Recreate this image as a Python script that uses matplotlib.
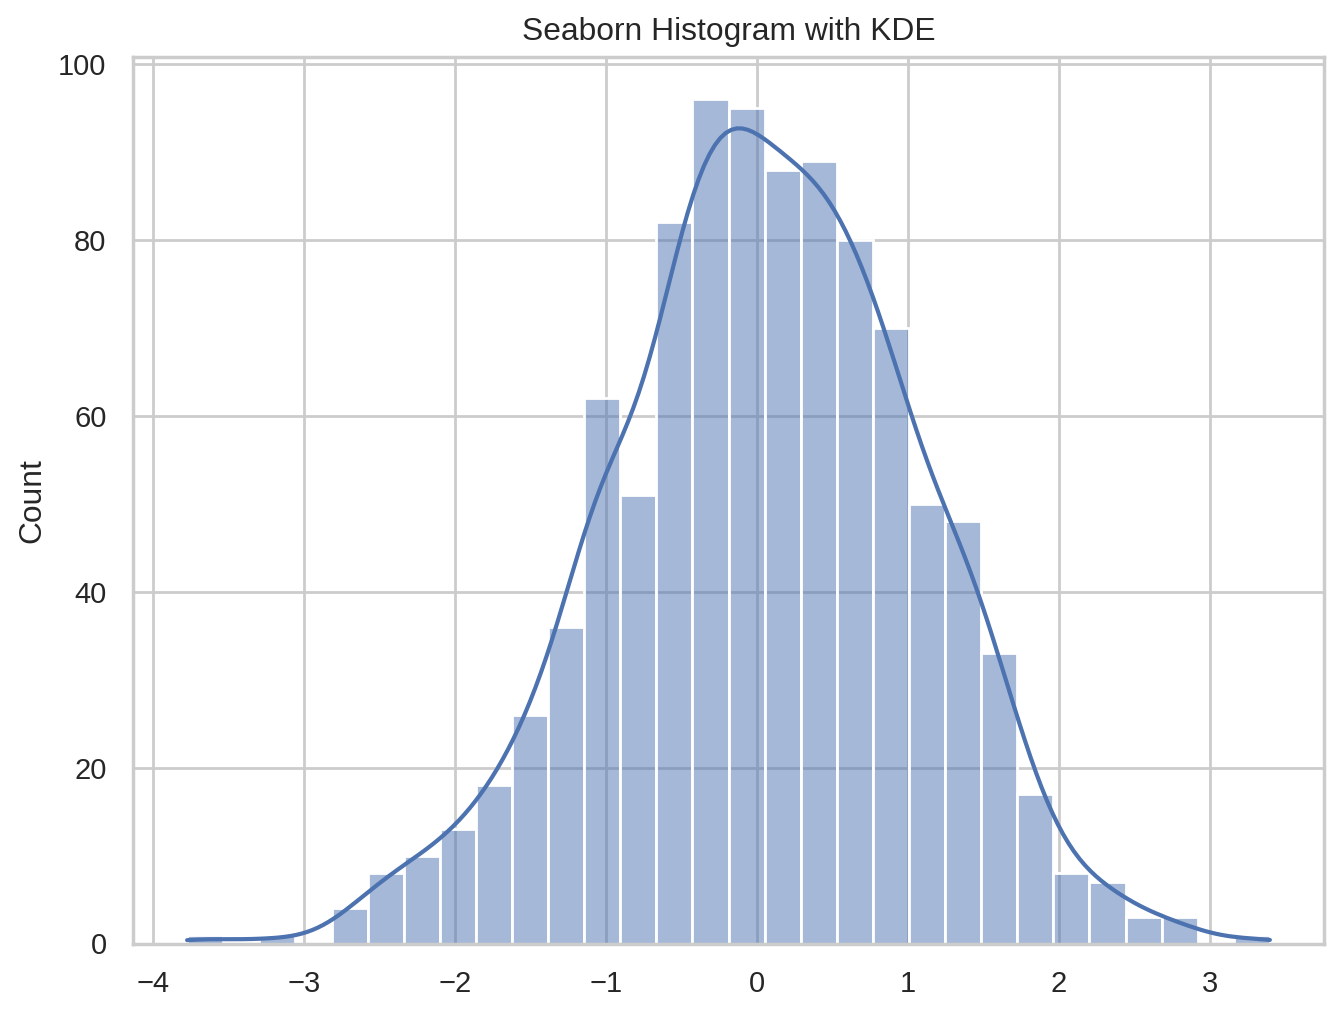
import numpy as np
import matplotlib
matplotlib.use("Agg")
import matplotlib.pyplot as plt
import seaborn as sns

# Histogram data (30 equal bins)
x_min = -3.775
x_max = 3.397
n_bins = 30
counts = [1, 0, 1, 0, 4, 8, 10, 13, 18, 26, 36, 62, 51, 82, 96,
          95, 88, 89, 80, 70, 50, 48, 33, 17, 8, 7, 3, 3, 0, 1]
title = "Seaborn Histogram with KDE"
ylabel = "Count"

sns.set_theme(style="whitegrid")
plt.rcParams['font.family'] = ['Liberation Sans', 'DejaVu Sans']
plt.rcParams['axes.titlesize'] = 11.45
plt.rcParams['axes.labelsize'] = 11.45
plt.rcParams['xtick.labelsize'] = 10.5
plt.rcParams['ytick.labelsize'] = 10.5

edges = np.linspace(x_min, x_max, n_bins + 1)
centers = (edges[:-1] + edges[1:]) / 2
samples = np.repeat(centers, counts)

fig = plt.figure(figsize=(6.71, 5.085), dpi=200)
W, H = 1342, 1017
ax = fig.add_axes([133 / W, (H - 943.5) / H, (1324 - 133) / W, (943.5 - 57) / H])

sns.histplot(x=samples, bins=edges, kde=True, ax=ax,
             kde_kws=dict(cut=3, clip=(x_min, x_max), bw_adjust=0.88))
ax.set_title(title)
ax.set_ylabel(ylabel)
ax.set_xlabel("")
ax.set_xticks([-4, -3, -2, -1, 0, 1, 2, 3])

fig.savefig("out.png", dpi=200)
